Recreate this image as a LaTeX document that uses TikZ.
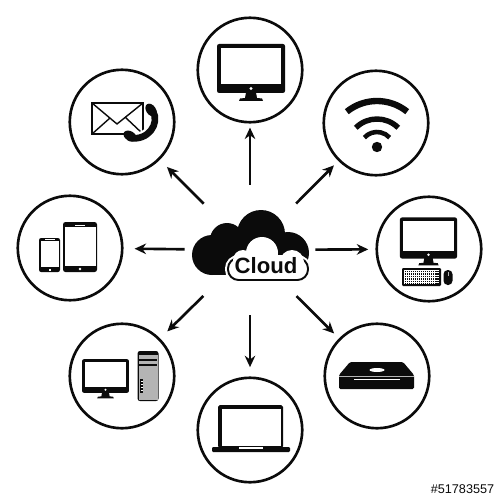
\documentclass[tikz,border=0pt]{standalone}
\usepackage{fontspec}
\setmainfont{Liberation Sans}
\usepackage{xcolor}
\usetikzlibrary{arrows.meta}
\definecolor{ink}{HTML}{0B0B0B}
\definecolor{steel}{HTML}{B4B4B4}
\tikzset{
  ring/.style={circle, draw=ink, line width=1.5pt, minimum size=2.09cm, inner sep=0pt, fill=white},
  hubzone/.style={circle, minimum size=2.62cm, inner sep=0pt, outer sep=0pt},
  arr/.style={draw=ink, line width=1.5pt, -{Stealth[length=6.5pt,width=6pt]}},
  solid ink/.style={fill=ink},
  paper/.style={fill=white},
  lab/.style={text=ink, font=\fontsize{12.6}{13}\selectfont\bfseries},
  stamp/.style={text=ink, font=\fontsize{7.2}{8}\selectfont},
  monitor/.pic={
    \fill[solid ink, rounded corners=1.2pt] (-34,-24.5) rectangle (34,24.5);
    \fill[paper] (-30,-20.5) rectangle (30,15.5);
    \fill[paper] (0,20) circle (1.7);
    \fill[solid ink] (-5,24) -- (5,24) -- (6,29.5) -- (11,30) -- (12,32.5) -- (-12,32.5) -- (-11,30) -- (-6,29.5) -- cycle;
  },
}
\begin{document}
\begin{tikzpicture}[x=0.02cm,y=-0.02cm]
  \useasboundingbox (0,0) rectangle (500,500);
  \fill[white] (0,0) rectangle (500,500);

  \node[hubzone] (hub) at (250,250) {};
  \node[ring] (desk) at (250,70) {};
  \node[ring] (wifi) at (376,123) {};
  \node[ring] (combo) at (429,249) {};
  \node[ring] (mini) at (377,376) {};
  \node[ring] (laptop) at (250,430) {};
  \node[ring] (tower) at (122,376) {};
  \node[ring] (tablet) at (70,248) {};
  \node[ring] (mail) at (122,122) {};

  \draw[arr, shorten >=2.3pt] (hub) -- (desk);
  \draw[arr, shorten >=3.5pt] (hub) -- (wifi);
  \draw[arr, shorten >=4.1pt] (hub) -- (combo);
  \draw[arr, shorten >=3.9pt] (hub) -- (mini);
  \draw[arr, shorten >=5.3pt] (hub) -- (laptop);
  \draw[arr, shorten >=5.7pt] (hub) -- (tower);
  \draw[arr, shorten >=6.3pt] (hub) -- (tablet);
  \draw[arr, shorten >=5.7pt] (hub) -- (mail);

  % cloud
  \fill[solid ink] (261,234) circle (24);
  \fill[solid ink] (227,240) circle (17);
  \fill[solid ink] (212,255) circle (20);
  \fill[solid ink] (288,253) circle (21);
  \fill[solid ink] (212,245) rectangle (290,275);
  \draw[white, line width=3.4pt, rounded corners=6pt] (228,258) rectangle (308,280);
  \draw[ink, line width=1.1pt, fill=white, rounded corners=6pt] (228,258) rectangle (308,280);
  \fill[paper] (262,253) circle (16);
  \fill[paper] (243,260) circle (10);
  \fill[paper] (292,262) circle (12);
  \fill[paper] (238,256) rectangle (298,272);
  \node[lab] (cloudtxt) at (266,266) {Cloud};

  % desktop
  \pic at (251,68.5) {monitor};

  % wifi
  \fill[solid ink] (377,147) circle (5.2);
  \draw[ink, line width=3.6pt] (377,149) ++(231:48) arc (231:309:48);
  \draw[ink, line width=3.1pt] (377,149) ++(225:30) arc (225:315:30);
  \draw[ink, line width=2.6pt] (377,149) ++(222:17) arc (222:318:17);

  % monitor, keyboard and mouse
  \pic[scale=.84] at (428.5,238) {monitor};
  \fill[solid ink, rounded corners=.6pt] (402,268) rectangle (441,286);
  \foreach \gx in {404,406,...,434} {\draw[white, line width=.3pt] (\gx,270) -- (\gx,284);}
  \foreach \gy in {270,272.5,...,284} {\draw[white, line width=.3pt] (404,\gy) -- (439,\gy);}
  \fill[solid ink, rounded corners=2.4pt] (443.5,270) rectangle (452.5,285);
  \draw[steel, line width=.4pt] (448,272) -- (448,276);

  % mac mini
  \fill[solid ink, rounded corners=.8pt] (339,375) -- (350,362) -- (403,362) -- (414,375) -- (414,389) -- (339,389) -- cycle;
  \fill[paper] (377,370) ellipse (7.5 and 2);
  \draw[steel, line width=.5pt] (339,376) -- (414,376);
  \fill[paper] (354,379) rectangle (400,380.4);

  % laptop
  \fill[solid ink, rounded corners=1pt] (218,405) rectangle (283,448);
  \fill[paper] (222,408.5) rectangle (281,446);
  \fill[solid ink, rounded corners=.6pt] (212,447) rectangle (290,452);
  \fill[paper] (239,447) rectangle (263,449);

  % pc and tower
  \pic[scale=.69] at (105.5,376) {monitor};
  \fill[solid ink, rounded corners=1.4pt] (137.5,351) rectangle (158.5,401);
  \fill[steel] (138.5,355) rectangle (157.5,399.5);
  \fill[solid ink] (139,358.5) rectangle (157,360.5);
  \fill[solid ink] (139,363.5) rectangle (157,365.5);
  \fill[solid ink] (140,379) rectangle (143,393);
  \foreach \gy in {381,384,...,391} {\draw[white, line width=.4pt] (140.5,\gy) -- (142.5,\gy);}

  % tablet and phone
  \fill[solid ink, rounded corners=1.4pt] (63,222) rectangle (97,272);
  \fill[paper] (64.5,227) rectangle (95.5,266);
  \fill[paper] (75,224.6) rectangle (85,225.8);
  \fill[paper] (80,269) circle (1.4);
  \fill[solid ink, rounded corners=1.2pt] (39,238) rectangle (60,272);
  \fill[paper] (40.5,241) rectangle (58.5,267);
  \fill[paper] (44.5,239) rectangle (54.5,240);
  \fill[paper] (48.7,268.6) rectangle (50.7,270.6);

  % envelope and handset
  \draw[ink, line width=.8pt, fill=white] (92,103) rectangle (143,134);
  \draw[ink, line width=.8pt, line join=round] (92,103) -- (117,124) -- (143,103);
  \draw[ink, line width=.8pt] (92,134) -- (110,118) (143,134) -- (125,117);
  \draw[white, line width=6.4pt, line cap=round] (153,111) .. controls (160,124) and (148,141) .. (130,138);
  \draw[ink, line width=3.8pt, line cap=round] (153,111) .. controls (160,124) and (148,141) .. (130,138);
  \fill[solid ink, rotate around={-55:(151,110)}] (151,110) ellipse (7 and 4.8);
  \fill[solid ink, rotate around={-30:(130,136)}] (130,136) ellipse (7 and 4.8);

  \node[stamp] (stockid) at (462.5,489) {\#51783557};
\end{tikzpicture}
\end{document}
